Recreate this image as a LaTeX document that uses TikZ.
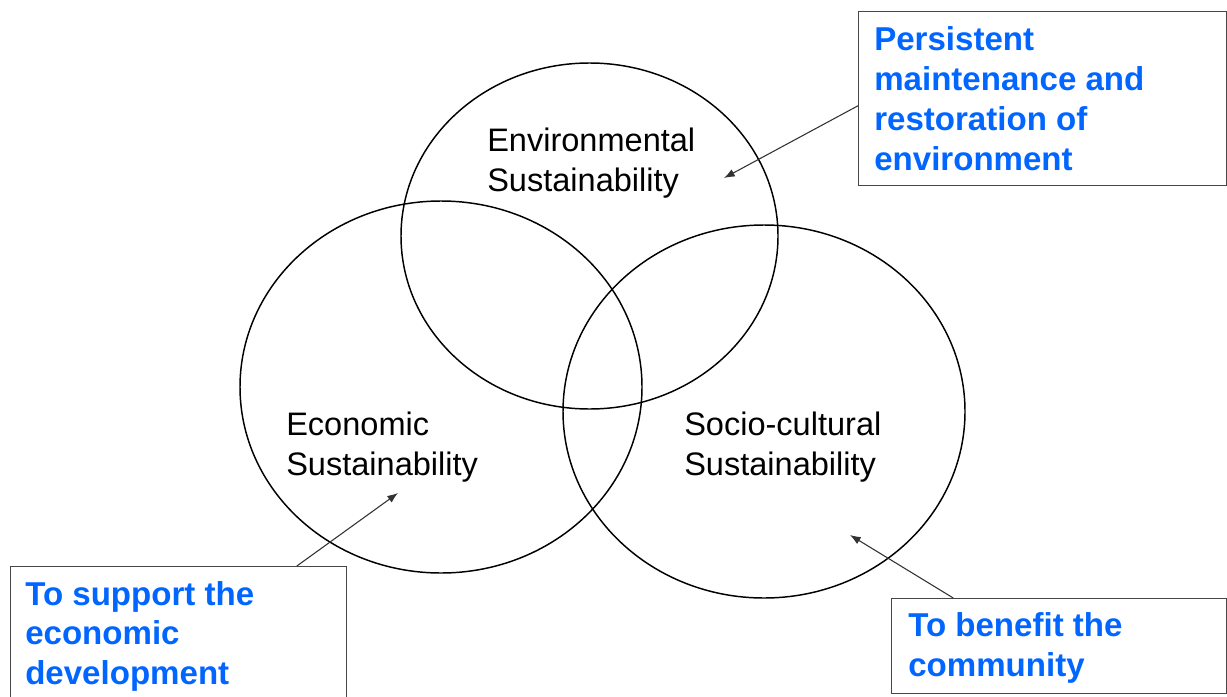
\documentclass[tikz,border=0pt]{standalone}
\usepackage{fontspec}
\setmainfont{Liberation Sans}
\usetikzlibrary{shapes.geometric,arrows.meta,calc}
\definecolor{noteblue}{RGB}{0,102,255}
\definecolor{boxgray}{RGB}{70,70,70}
\definecolor{arrowgray}{RGB}{50,50,50}
\begin{document}
\begin{tikzpicture}[x=0.75pt,y=-0.75pt,
  ring/.style={draw=black,line width=1.1pt,ellipse,inner sep=0pt},
  label/.style={anchor=base west,align=left,inner sep=0pt,
    font=\fontsize{24.4}{29.5}\selectfont},
  note/.style={label,text=noteblue,font=\fontsize{24.8}{29.5}\selectfont\bfseries},
  notebox/.style={draw=boxgray,line width=1.1pt,rectangle,anchor=north west,inner sep=0pt},
  pointer/.style={draw=arrowgray,line width=0.8pt,-{Latex[length=8pt,width=6pt]}}]
\clip (0,0) rectangle (1227,696);
\fill[white] (0,0) rectangle (1227,696);

% the three overlapping sustainability ellipses
\node[ring,minimum width=282.75pt,minimum height=259.5pt] (env) at (589.5,236) {};
\node[ring,minimum width=301.5pt,minimum height=279pt] (eco) at (441,387) {};
\node[ring,minimum width=301.5pt,minimum height=279.75pt] (soc) at (764,411.5) {};

% ellipse titles (placed by the baseline of their last line)
\node[label] (envtxt) at (487,191) {Environmental\\Sustainability};
\node[label] (ecotxt) at (286,475) {Economic\\Sustainability};
\node[label] (soctxt) at (684,475) {Socio-cultural\\Sustainability};

% note boxes
\node[notebox,minimum width=276pt,minimum height=130.5pt] (envbox) at (858,11) {};
\node[notebox,minimum width=252pt,minimum height=112.5pt] (ecobox) at (10,566) {};
\node[notebox,minimum width=251.25pt,minimum height=71.25pt] (socbox) at (891,598) {};

\node[note,font=\fontsize{24.8}{30}\selectfont\bfseries] (envnote) at (874,170)
  {Persistent\\maintenance and\\restoration of\\environment};
\node[note] (econote) at (25,684) {To support the\\economic\\development};
\node[note] (socnote) at (908,676) {To benefit the\\community};

% pointers from the notes into the ellipses
\coordinate (envtip) at (724,178);
\coordinate (ecotip) at (398,493);
\coordinate (soctip) at (850,535);
\draw[pointer] ($(envbox.north west)!0.54!(envbox.south west)$) -- (envtip);
\draw[pointer] ($(ecobox.north west)!0.85!(ecobox.north east)$) -- (ecotip);
\draw[pointer] ($(socbox.north west)!0.185!(socbox.north east)$) -- (soctip);
\end{tikzpicture}
\end{document}
